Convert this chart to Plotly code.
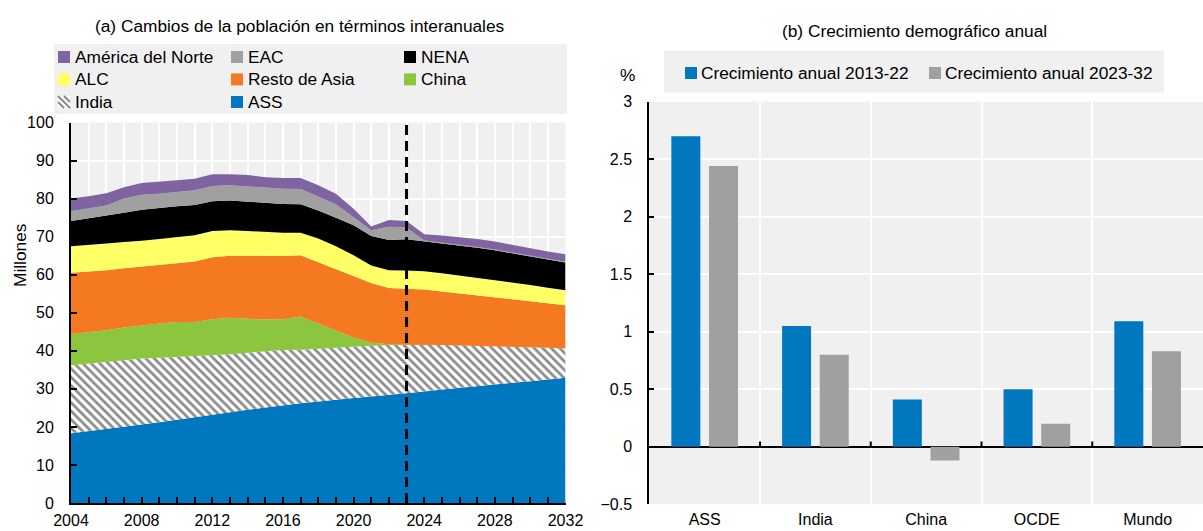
import plotly.graph_objects as go

W, H = 1203, 531
FONT = "Liberation Sans, Arial, sans-serif"

# ---- Panel (a): year-on-year population change, millions ----
years = list(range(2004, 2033))
ass = [18.3, 18.9, 19.4, 20.0, 20.5, 21.2, 21.9, 22.6, 23.3, 23.9, 24.5, 25.1, 25.7, 26.2, 26.7,
       27.2, 27.6, 28.0, 28.4, 28.8, 29.3, 29.8, 30.3, 30.8, 31.2, 31.6, 32.0, 32.5, 32.9]
india = [17.9, 17.8, 17.7, 17.6, 17.5, 17.0, 16.5, 16.0, 15.5, 15.2, 15.0, 14.7, 14.5, 14.1, 13.9,
         13.6, 13.5, 13.3, 13.1, 12.8, 12.3, 11.7, 11.1, 10.5, 10.0, 9.4, 8.9, 8.3, 7.7]
china = [8.2, 8.2, 8.3, 8.5, 8.7, 9.0, 9.2, 9.0, 9.5, 9.6, 8.9, 8.4, 8.1, 8.7, 6.6,
         4.6, 2.4, 0.8, 0.2, 0.0, 0.0, 0.0, 0.0, 0.0, 0.0, 0.0, 0.0, 0.0, 0.0]
resto_asia = [16.1, 15.9, 15.8, 15.6, 15.5, 15.5, 15.5, 15.9, 16.3, 16.3, 16.6, 16.7, 16.6, 16.1, 16.1,
              15.9, 16.1, 15.7, 14.8, 14.7, 14.5, 14.1, 13.7, 13.3, 12.9, 12.6, 12.2, 11.8, 11.4]
alc = [7.0, 7.0, 7.0, 6.9, 6.7, 6.7, 6.8, 6.9, 6.9, 6.7, 6.5, 6.3, 6.1, 5.9, 6.2,
       6.2, 5.5, 4.6, 4.7, 4.8, 4.8, 4.8, 4.7, 4.6, 4.5, 4.4, 4.2, 4.0, 3.9]
nena = [6.6, 7.0, 7.4, 7.7, 8.2, 8.2, 8.1, 7.9, 7.8, 7.8, 7.7, 7.6, 7.6, 7.5, 7.4,
        7.5, 7.9, 7.8, 7.9, 8.2, 7.9, 7.9, 7.9, 7.9, 7.8, 7.6, 7.5, 7.4, 7.3]
eac = [2.6, 2.6, 2.6, 3.7, 3.9, 3.7, 3.7, 3.9, 4.0, 4.0, 4.0, 4.1, 4.0, 4.0, 3.5,
       3.5, 2.1, 1.5, 3.5, 3.1, 0.2, 0.2, 0.2, 0.2, 0.2, 0.2, 0.2, 0.2, 0.2]
america_norte = [3.3, 3.2, 3.2, 3.0, 3.1, 3.1, 3.1, 3.0, 3.1, 2.9, 3.0, 2.7, 2.8, 2.9, 3.1,
                 2.8, 2.2, 1.0, 1.8, 1.7, 1.6, 1.8, 2.0, 2.1, 2.1, 2.0, 1.9, 1.9, 2.0]
projection_year = 2023

# ---- Panel (b): annual population growth, % ----
regions = ["ASS", "India", "China", "OCDE", "Mundo"]
growth_2013_22 = [2.70, 1.05, 0.41, 0.50, 1.09]
growth_2023_32 = [2.44, 0.80, -0.12, 0.20, 0.83]

C_BLUE = "#0077BE"
C_GREY = "#A0A0A0"
C_ORANGE = "#F47920"
C_YELLOW = "#FFFF66"
C_GREEN = "#8CC63F"
C_PURPLE = "#8064A2"
C_BLACK = "#000000"
PLOT_BG = "#F0F0F0"


def px(x):
    return x / W


def py(y):
    return 1 - y / H


fig = go.Figure()

stack = [
    ("ASS", ass, C_BLUE),
    ("India", india, None),
    ("China", china, C_GREEN),
    ("Resto de Asia", resto_asia, C_ORANGE),
    ("ALC", alc, C_YELLOW),
    ("NENA", nena, C_BLACK),
    ("EAC", eac, C_GREY),
    ("América del Norte", america_norte, C_PURPLE),
]
for name, vals, color in stack:
    kw = dict(fillcolor=color)
    if color is None:
        kw = dict(fillcolor="white",
                  fillpattern=dict(shape="\\", fgcolor="#8A8A8A", bgcolor="white",
                                   size=6, solidity=0.45, fillmode="replace"))
    fig.add_trace(go.Scatter(x=years, y=vals, name=name, stackgroup="one",
                             mode="lines", line=dict(width=0), showlegend=False,
                             xaxis="x", yaxis="y", hoverinfo="x+y+name", **kw))

fig.add_trace(go.Bar(x=regions, y=growth_2013_22, name="Crecimiento anual 2013-22",
                     marker=dict(color=C_BLUE, line=dict(width=0)),
                     xaxis="x2", yaxis="y2", showlegend=False))
fig.add_trace(go.Bar(x=regions, y=growth_2023_32, name="Crecimiento anual 2023-32",
                     marker=dict(color=C_GREY, line=dict(width=0)),
                     xaxis="x2", yaxis="y2", showlegend=False))

tickfont = dict(family=FONT, size=16, color="black")

fig.update_layout(
    template="none",
    width=W, height=H,
    margin=dict(l=0, r=0, t=0, b=0, pad=0),
    paper_bgcolor="white", plot_bgcolor=PLOT_BG,
    font=dict(family=FONT, size=17, color="black"),
    showlegend=False,
    barmode="group", bargap=0.32, bargroupgap=0.23,
    xaxis=dict(domain=[px(71), px(565.5)], anchor="y", range=[2004, 2032], automargin=False,
               tick0=2004, dtick=4, ticks="inside", ticklen=6, tickwidth=2, tickcolor="black",
               showline=True, linecolor="black", linewidth=2,
               showgrid=True, gridcolor="white", gridwidth=2, zeroline=False,
               tickfont=tickfont, ticklabelstandoff=2,
               minor=dict(tick0=2004, dtick=1, ticks="inside", ticklen=6, tickwidth=2,
                          tickcolor="black", showgrid=True, gridcolor="white", gridwidth=2)),
    yaxis=dict(domain=[py(503), py(122.5)], anchor="x", range=[0, 100], dtick=10,
               automargin=False,
               ticks="inside", ticklen=6, tickwidth=2, tickcolor="black",
               showline=True, linecolor="black", linewidth=2,
               showgrid=True, gridcolor="white", gridwidth=2, zeroline=False,
               tickfont=tickfont, ticklabelstandoff=12),
    xaxis2=dict(domain=[px(649.3), 1.0], anchor="y2", type="category", automargin=False,
                tickson="boundaries", ticks="", showline=False,
                showgrid=True, gridcolor="white", gridwidth=2,
                tickfont=tickfont, ticklabelstandoff=4),
    yaxis2=dict(domain=[py(504.2), py(101.7)], anchor="x2", range=[-0.5, 3], dtick=0.5,
                automargin=False,
                ticks="inside", ticklen=5, tickwidth=2, tickcolor="black",
                showline=True, linecolor="black", linewidth=2,
                showgrid=True, gridcolor="white", gridwidth=2,
                zeroline=True, zerolinecolor="black", zerolinewidth=2,
                tickfont=tickfont, ticklabelstandoff=12),
)

shapes = []
# projection start marker
shapes.append(dict(type="line", xref="x", yref="y", x0=projection_year, x1=projection_year,
                   y0=0, y1=100, line=dict(color="black", width=3, dash="10px,6px"),
                   layer="above"))
# small ticks on the zero line between region groups
for i in range(len(regions) - 1):
    shapes.append(dict(type="line", xref="x2", yref="y2", x0=i + 0.5, x1=i + 0.5,
                       y0=0, y1=0.045, line=dict(color="black", width=2), layer="above"))

annotations = []


def text(x, y, s, size=17.3, anchor="left", angle=0):
    annotations.append(dict(x=px(x), y=py(y), xref="paper", yref="paper", text=s,
                            showarrow=False, xanchor=anchor, yanchor="middle",
                            textangle=angle, font=dict(family=FONT, size=size, color="black")))


def swatch(x, yc, color, size=12):
    shapes.append(dict(type="rect", xref="paper", yref="paper",
                       x0=px(x), x1=px(x + size), y0=py(yc + size / 2), y1=py(yc - size / 2),
                       fillcolor=color, line=dict(width=0), layer="above"))


def hatched_swatch(x, yc, size=12):
    swatch(x, yc, "white", size)
    top, bot = yc - size / 2, yc + size / 2
    segs = [(x, top, x + size, bot), (x, top + size / 2, x + size / 2, bot),
            (x + size / 2, top, x + size, top + size / 2)]
    for x0, y0, x1, y1 in segs:
        shapes.append(dict(type="line", xref="paper", yref="paper",
                           x0=px(x0), y0=py(y0), x1=px(x1), y1=py(y1),
                           line=dict(color="#8A8A8A", width=2), layer="above"))


# titles and axis captions
text(299.5, 26, "(a) Cambios de la población en términos interanuales", anchor="center")
text(914, 30.6, "(b) Crecimiento demográfico anual", anchor="center")
text(19.5, 255.5, "Millones", angle=-90, anchor="center")
text(627, 75, "%", anchor="center")

# legend of panel (a)
shapes.append(dict(type="rect", xref="paper", yref="paper", x0=px(54), x1=px(567),
                   y0=py(114), y1=py(44), fillcolor=PLOT_BG, line=dict(width=0), layer="below"))
col_x = [58, 231, 404]
row_y = [57, 79.4, 102]
legend_a = [
    ("América del Norte", C_PURPLE, 0, 0), ("EAC", C_GREY, 1, 0), ("NENA", C_BLACK, 2, 0),
    ("ALC", C_YELLOW, 0, 1), ("Resto de Asia", C_ORANGE, 1, 1), ("China", C_GREEN, 2, 1),
    ("India", None, 0, 2), ("ASS", C_BLUE, 1, 2),
]
for label, color, c, r in legend_a:
    if color is None:
        hatched_swatch(col_x[c], row_y[r])
    else:
        swatch(col_x[c], row_y[r], color)
    text(col_x[c] + 15, row_y[r], label)

# legend of panel (b)
shapes.append(dict(type="rect", xref="paper", yref="paper", x0=px(664), x1=px(1164),
                   y0=py(92.6), y1=py(50.6), fillcolor=PLOT_BG, line=dict(width=0), layer="below"))
for x0, color, label in [(685, C_BLUE, "Crecimiento anual 2013-22"),
                         (929, C_GREY, "Crecimiento anual 2023-32")]:
    swatch(x0, 73, color)
    text(x0 + 14, 73, label)

fig.update_layout(shapes=shapes, annotations=annotations)
fig.write_html("out.html")
